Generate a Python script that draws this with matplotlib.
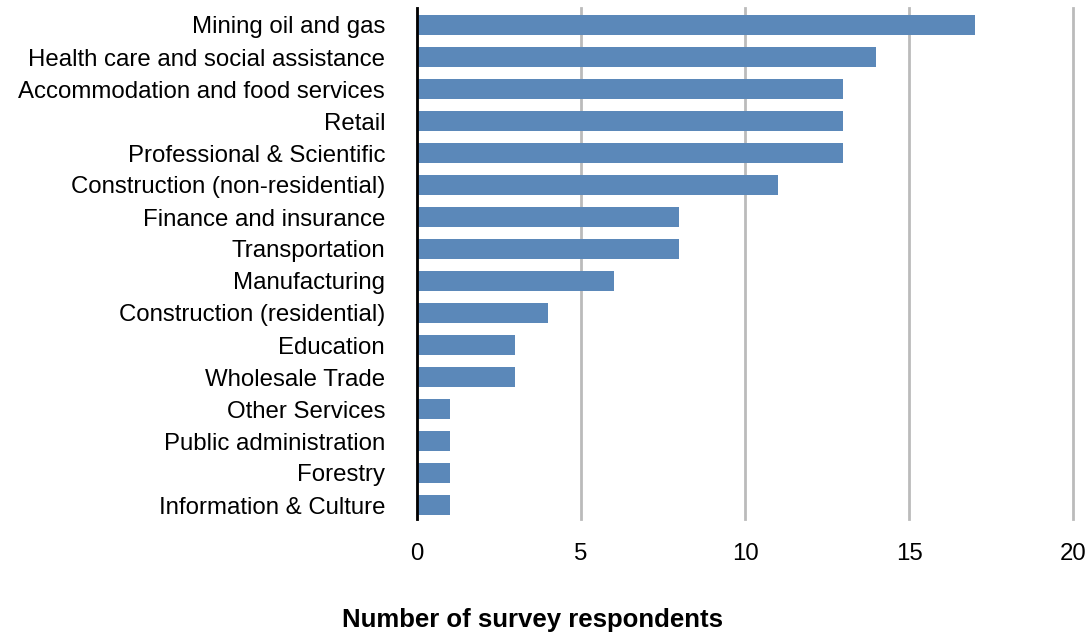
import matplotlib
matplotlib.use("Agg")
import matplotlib.pyplot as plt

categories = [
    "Mining oil and gas",
    "Health care and social assistance",
    "Accommodation and food services",
    "Retail",
    "Professional & Scientific",
    "Construction (non-residential)",
    "Finance and insurance",
    "Transportation",
    "Manufacturing",
    "Construction (residential)",
    "Education",
    "Wholesale Trade",
    "Other Services",
    "Public administration",
    "Forestry",
    "Information & Culture",
]
values = [17, 14, 13, 13, 13, 11, 8, 8, 6, 4, 3, 3, 1, 1, 1, 1]
xticks = [0, 5, 10, 15, 20]

plt.rcParams['font.family'] = ['Liberation Sans', 'DejaVu Sans']

fig = plt.figure(figsize=(10.89, 6.35), dpi=100)
ax = fig.add_axes([417/1089, 1 - 519/635, (1073 - 417)/1089, (519 - 8)/635])

y = list(range(len(categories)))
ax.barh(y, values, height=0.625, color="#5b88b9", zorder=3)
ax.set_ylim(len(categories) - 1 + 14/32, -17/32)
ax.set_xlim(0, 20)
ax.set_yticks(y)
ax.set_yticklabels(categories, fontsize=17.3)
for lbl in ax.get_yticklabels():
    lbl.set_va('center_baseline')
ax.set_xticks(xticks)
ax.set_xticklabels([str(t) for t in xticks], fontsize=17.3)
ax.tick_params(axis='y', length=0, pad=23)
ax.tick_params(axis='x', length=0, pad=17)
for s in ['top', 'right', 'bottom']:
    ax.spines[s].set_visible(False)
ax.spines['left'].set_linewidth(2)
ax.spines['left'].set_color('black')
ax.spines['left'].set_zorder(4)
ax.xaxis.grid(True, color="#bbbbbb", linewidth=2, zorder=0)
ax.set_axisbelow(True)
for gl in ax.get_xgridlines():
    gl.set_clip_on(False)
fig.text(532 / 1089, 1 - 620 / 635, "Number of survey respondents",
         ha='center', va='center', fontsize=18.5, fontweight='bold')

fig.savefig("out.png", dpi=100)
